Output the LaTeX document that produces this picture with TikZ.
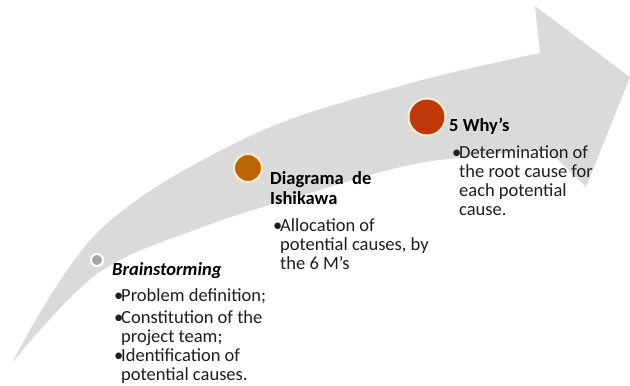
\documentclass[tikz,border=0pt]{standalone}
\usepackage{fontspec}
\setmainfont{Carlito}
\usepackage{tikz}
\usetikzlibrary{positioning}
\definecolor{arrowgrey}{RGB}{218,218,218}
\definecolor{textgrey}{RGB}{30,30,30}
\definecolor{dotgrey}{RGB}{166,166,166}
\definecolor{dotbrown}{RGB}{188,101,8}
\definecolor{dotred}{RGB}{192,56,10}
\definecolor{rimcream}{RGB}{252,236,205}
\newcommand{\bul}{\makebox[7pt][l]{\textbullet}}
\newcommand{\ind}{\hspace*{7pt}}
\tikzset{
  stagedot/.style={circle, inner sep=0pt, draw=#1, line width=2pt},
  stagetitle/.style={anchor=base west, inner sep=0pt, align=left, text=black,
    font=\fontsize{18.5}{19.5}\selectfont\bfseries},
  stageitem/.style={anchor=base west, inner sep=0pt, align=left, text=textgrey,
    font=\fontsize{18.5}{19}\selectfont}
}
\begin{document}
\begin{tikzpicture}[x=1pt,y=-1pt]
  \useasboundingbox (0,0) rectangle (630,386);
  % the big sweeping arrow
  \fill[arrowgrey] plot[smooth, tension=0.6] coordinates {(12,363) (100,230) (248,137) (400,86) (540,53)}
    -- (535,6) -- (630,77) -- (586,187) -- (548,150)
    -- plot[smooth, tension=0.6] coordinates {(548,150) (420,163) (300,196) (200,228) (97,274) (12,363)}
    -- cycle;

  % stage markers
  \node (brain) [stagedot=white, fill=dotgrey, minimum size=12pt] at (97,260) {};
  \node (ishi)  [stagedot=rimcream, fill=dotbrown, minimum size=28pt] at (248,168) {};
  \node (why)   [stagedot=rimcream, fill=dotred, minimum size=37pt] at (427,117) {};

  % Brainstorming (multi-line nodes sit on the baseline of their last line)
  \node (braint) [stagetitle, font=\fontsize{18.5}{19.5}\selectfont\bfseries\itshape] at (112,275) {Brainstorming};
  \node (brain1) [stageitem] at (114,301) {\bul Problem definition;};
  \node (brain2) [stageitem] at (114,342) {\bul Constitution of the\\\ind project team;};
  \node (brain3) [stageitem] at (114,380) {\bul Identification of\\\ind potential causes.};

  % Ishikawa
  \node (ishit) [stagetitle] at (270,204) {Diagrama\ \ de\\Ishikawa};
  \node (ishi1) [stageitem] at (273,269) {\bul Allocation of\\\ind potential causes, by\\\ind the 6 M's};

  % 5 why's
  \node (whyt) [stagetitle] at (449,131) {5 Why's};
  \node (why1) [stageitem] at (452,215) {\bul Determination of\\\ind the root cause for\\\ind each potential\\\ind cause.};
\end{tikzpicture}
\end{document}
